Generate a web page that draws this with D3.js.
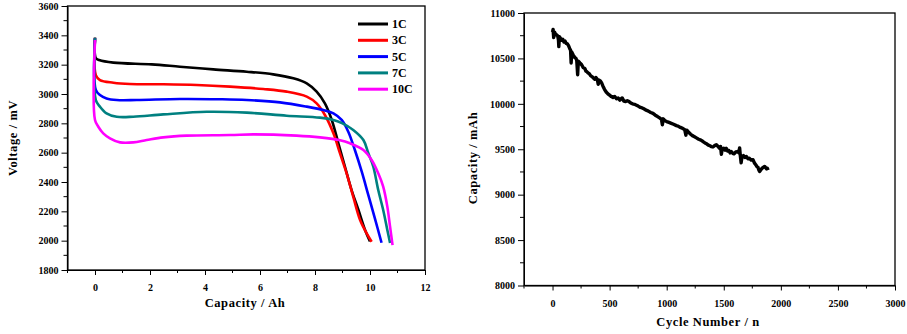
<!DOCTYPE html>
<html><head><meta charset="utf-8">
<script src="https://cdn.jsdelivr.net/npm/d3@7"></script>
<style>body{margin:0;background:#fff}svg{display:block}</style>
</head><body>
<script>
// ---- Left chart data: [capacity Ah, voltage mV]
const series1C = [[0,3385],[0.03,3245],[0.15,3232],[0.67,3214],[2.06,3202],[3.09,3186],[4.30,3168],[5.52,3152],[6.48,3134],[7.21,3107],[7.70,3073],[8.06,3016],[8.36,2936],[8.61,2823],[8.85,2664],[9.09,2504],[9.33,2345],[9.58,2209],[9.82,2073],[10.0,1995]];
const series3C = [[0,3380],[0.03,3129],[0.18,3095],[0.67,3077],[1.27,3068],[2.48,3066],[3.70,3061],[4.91,3050],[6.12,3034],[6.97,3016],[7.70,2982],[8.06,2936],[8.36,2857],[8.67,2732],[8.91,2595],[9.15,2459],[9.39,2300],[9.64,2141],[9.88,2050],[10.06,1993]];
const series5C = [[0,3380],[0.03,3027],[0.18,2993],[0.42,2970],[0.79,2959],[1.52,2959],[3.09,2966],[4.55,2964],[5.52,2959],[6.73,2943],[7.70,2914],[8.30,2891],[8.67,2868],[8.97,2823],[9.21,2743],[9.45,2618],[9.70,2470],[9.94,2310],[10.18,2150],[10.42,1986]];
const series7C = [[0,3380],[0.03,2959],[0.18,2914],[0.42,2868],[0.79,2845],[1.39,2845],[2.48,2861],[4.06,2879],[5.52,2873],[6.97,2852],[8.18,2839],[8.67,2823],[9.0,2800],[9.39,2755],[9.76,2686],[9.94,2596],[10.12,2504],[10.3,2345],[10.48,2209],[10.63,2073],[10.73,1984]];
const series10C = [[0,3368],[0,2823],[0.12,2777],[0.3,2732],[0.545,2698],[0.91,2670],[1.39,2670],[1.88,2686],[2.48,2704],[3.33,2716],[4.91,2720],[5.76,2725],[7.33,2716],[8.18,2704],[8.91,2685],[9.27,2664],[9.76,2618],[10.06,2550],[10.3,2459],[10.48,2368],[10.63,2232],[10.73,2095],[10.82,1970]];
const rateLabels = ["1C","3C","5C","7C","10C"];
const rateColors = ["#000000","#ff0000","#0000ff","#008080","#ff00ff"];
const leftXTicks = [0,2,4,6,8,10,12];
const leftYTicks = [1800,2000,2200,2400,2600,2800,3000,3200,3400,3600];

// ---- Right chart data: cycle number and capacity (mAh)
const cycles = [0,5,10,18,25,35,45,52,55,60,70,80,90,100,110,120,130,140,150,158,163,168,180,195,205,212,220,226,240,255,268,283,292,300,312,320,333,345,358,370,380,392,400,410,420,430,440,455,470,485,500,515,530,545,560,575,590,600,610,625,640,655,670,685,700,718,735,750,770,785,800,820,840,860,880,900,920,938,954,962,970,985,1000,1020,1040,1060,1085,1100,1120,1140,1158,1168,1176,1190,1210,1225,1240,1260,1280,1300,1318,1335,1350,1365,1377,1390,1405,1420,1435,1450,1462,1472,1479,1486,1500,1512,1522,1535,1545,1556,1566,1578,1590,1605,1620,1632,1639,1645,1652,1660,1672,1685,1698,1712,1725,1740,1756,1768,1780,1790,1800,1808,1814,1825,1835,1845,1858,1868,1875,1882,1888];
const capacityMAh = [10790,10820,10730,10790,10770,10760,10750,10700,10630,10740,10720,10700,10710,10680,10690,10665,10660,10640,10610,10590,10450,10570,10540,10510,10500,10480,10320,10470,10450,10430,10400,10390,10360,10355,10340,10335,10310,10300,10285,10270,10290,10270,10215,10260,10250,10230,10200,10160,10130,10110,10095,10080,10070,10080,10055,10065,10040,10055,10065,10030,10025,10035,10025,10010,10000,9995,9985,9975,9960,9955,9945,9930,9920,9905,9895,9875,9860,9845,9830,9770,9835,9815,9805,9795,9785,9775,9760,9755,9740,9730,9715,9655,9710,9690,9665,9650,9640,9625,9610,9600,9585,9570,9560,9545,9540,9530,9525,9540,9550,9530,9510,9530,9445,9500,9510,9490,9510,9480,9485,9460,9475,9455,9450,9470,9475,9460,9515,9430,9350,9420,9430,9410,9420,9395,9400,9380,9385,9350,9330,9310,9300,9270,9256,9275,9290,9300,9311,9295,9285,9290,9270];
const rightXTicks = [0,500,1000,1500,2000,2500,3000];
const rightYTicks = [8000,8500,9000,9500,10000,10500,11000];

const FONT = "'Liberation Serif','Times New Roman',serif";
const svg = d3.select("body").append("svg").attr("width",907).attr("height",334)
  .attr("font-family",FONT).attr("font-weight","bold");

function frame(g, x, y, xTicks, yTicks, xMinor, yMinor, xTitle, yTitle, xTitlePos, yTitlePos){
  const [x0,x1] = x.range(), [y0,y1] = y.range();
  g.selectAll(".mx").data(xMinor).join("line").attr("x1",d=>x(d)).attr("x2",d=>x(d)).attr("y1",y0).attr("y2",y0+3).attr("stroke","#000");
  g.selectAll(".my").data(yMinor).join("line").attr("y1",d=>y(d)).attr("y2",d=>y(d)).attr("x1",x0).attr("x2",x0-4).attr("stroke","#000");
  const xa = g.append("g").attr("transform",`translate(0,${y0})`).call(d3.axisBottom(x).tickValues(xTicks).tickFormat(d3.format("d")).tickSize(5).tickPadding(9).tickSizeOuter(0));
  const ya = g.append("g").attr("transform",`translate(${x0},0)`).call(d3.axisLeft(y).tickValues(yTicks).tickFormat(d3.format("d")).tickSize(6).tickPadding(3).tickSizeOuter(0));
  [xa,ya].forEach(a=>{a.attr("font-family",FONT).attr("font-weight","bold").attr("font-size",10);a.selectAll("text").attr("fill","#000");a.selectAll("path,line").attr("stroke","#000");});
  g.append("rect").attr("x",x0).attr("y",y1).attr("width",x1-x0).attr("height",y0-y1).attr("fill","none").attr("stroke","#000").attr("stroke-width",1.3);
  g.append("text").attr("x",xTitlePos[0]).attr("y",xTitlePos[1]).attr("text-anchor","middle").attr("font-size",12.5).attr("letter-spacing",0.6).text(xTitle);
  g.append("text").attr("transform",`translate(${yTitlePos[0]},${yTitlePos[1]}) rotate(-90)`).attr("text-anchor","middle").attr("font-size",12.5).attr("letter-spacing",0.6).text(yTitle);
}

// ---- Left chart
const xL = d3.scaleLinear().domain([-1,12]).range([67.5,425]);
const yL = d3.scaleLinear().domain([1800,3600]).range([270,6]);
const gL = svg.append("g");
frame(gL, xL, yL, leftXTicks, leftYTicks, d3.range(-1,12,2), d3.range(1900,3600,200),
  "Capacity / Ah","Voltage / mV",[245,307],[17,138]);
const lineL = d3.line().x(d=>xL(d[0])).y(d=>yL(d[1])).curve(d3.curveCatmullRom.alpha(0.5));
[series1C,series3C,series5C,series7C,series10C].forEach((s,i)=>{
  gL.append("path").datum(s).attr("d",lineL).attr("fill","none").attr("stroke",rateColors[i]).attr("stroke-width",2.6).attr("stroke-linejoin","round");
});
const leg = gL.append("g");
rateLabels.forEach((lab,i)=>{
  const yy = 24 + i*16.3;
  leg.append("line").attr("x1",358).attr("x2",388).attr("y1",yy).attr("y2",yy).attr("stroke",rateColors[i]).attr("stroke-width",3);
  leg.append("text").attr("x",392).attr("y",yy+4).attr("font-size",12).text(lab);
});

// ---- Right chart
const xR = d3.scaleLinear().domain([-250,3000]).range([524,895]);
const yR = d3.scaleLinear().domain([8000,11000]).range([285.5,13]);
const gR = svg.append("g");
frame(gR, xR, yR, rightXTicks, rightYTicks, d3.range(-250,3000,500), d3.range(8250,11000,500),
  "Cycle Number / n","Capacity / mAh",[708,326],[477,158]);
const lineR = d3.line().x((d,i)=>xR(cycles[i])).y(d=>yR(d));
gR.append("path").datum(capacityMAh).attr("d",lineR).attr("fill","none").attr("stroke","#000").attr("stroke-width",3.4).attr("stroke-linejoin","round");
</script>
</body></html>
